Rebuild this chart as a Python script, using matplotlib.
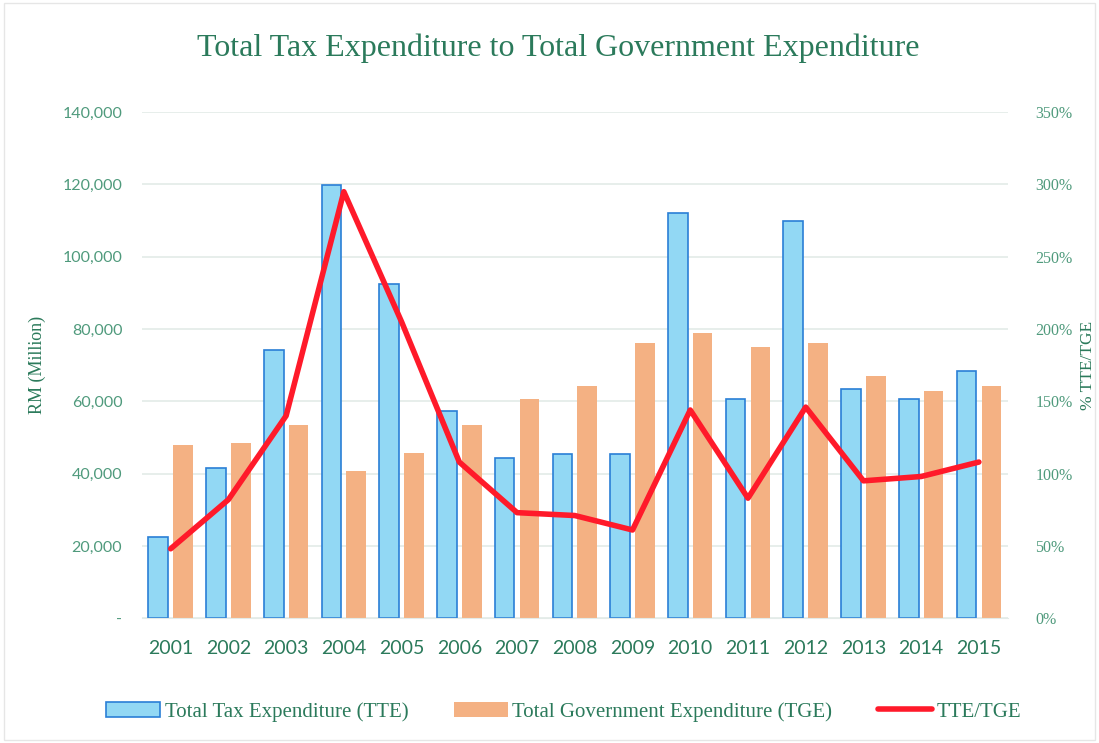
import numpy as np
import matplotlib.pyplot as plt
from matplotlib.ticker import FuncFormatter

anos = ['2001', '2002', '2003', '2004', '2005', '2006', '2007', '2008',
        '2009', '2010', '2011', '2012', '2013', '2014', '2015']
tte = [22400, 41500, 74200, 119800, 92400, 57300, 44300, 45400,
       45400, 112000, 60600, 109800, 63300, 60600, 68300]
tge = [47900, 48400, 53400, 40700, 45600, 53400, 60600, 64200,
       76100, 78800, 75000, 76100, 66900, 62800, 64200]
razao = [48, 82, 140, 295, 205, 108, 73, 71, 61, 144, 83, 146, 95, 98, 108]

verde = '#2b7a5b'
verde_claro = '#4f9a7c'
serif = ['Liberation Serif', 'DejaVu Serif']
sans = ['Lato', 'DejaVu Sans']

fig = plt.figure(figsize=(10.99, 7.43), dpi=100)
ax = fig.add_axes([0.129, 0.168, 0.788, 0.681])
ax2 = ax.twinx()

x = np.arange(len(anos))
larg = 0.34
ax.bar(x - 0.215, tte, larg, color='#92d8f4', edgecolor='#2a7fd6', linewidth=1.2,
       label='Total Tax Expenditure (TTE)', zorder=2)
ax.bar(x + 0.215, tge, larg, color='#f4b183', edgecolor='none',
       label='Total Government Expenditure (TGE)', zorder=2)
ax2.plot(x, razao, color='#ff1a2a', linewidth=4, label='TTE/TGE',
         solid_joinstyle='round', solid_capstyle='round')

ax.set_xlim(-0.5, len(anos) - 0.5)
ax.set_ylim(0, 140000)
ax.set_yticks(np.arange(0, 140001, 20000))
ax.yaxis.set_major_formatter(FuncFormatter(lambda v, p: '-' if v == 0 else '{:,.0f}'.format(v)))
ax2.set_ylim(0, 350)
ax2.set_yticks(np.arange(0, 351, 50))
ax2.yaxis.set_major_formatter(FuncFormatter(lambda v, p: '{:.0f}%'.format(v)))

ax.grid(axis='y', color='#e3ebe8', linewidth=1.2, zorder=0)
ax.set_axisbelow(True)
for a in (ax, ax2):
    for s in a.spines.values():
        s.set_visible(False)
ax.spines['bottom'].set_visible(True)
ax.spines['bottom'].set_color('#e3ebe8')

ax.set_xticks(x)
ax.set_xticklabels(anos, fontsize=14, color=verde, family=sans)
ax.tick_params(axis='x', length=0, pad=16)
ax.tick_params(axis='y', length=0, pad=14, labelsize=11.5, labelcolor=verde_claro)
for t in ax.get_yticklabels():
    t.set_family(sans)
ax2.tick_params(axis='y', length=0, pad=20, labelsize=11.5, labelcolor=verde_claro)
for t in ax2.get_yticklabels():
    t.set_family(serif)

ax.set_ylabel('RM (Million)', fontsize=13, color=verde, family=serif, labelpad=12)
ax2.set_ylabel('% TTE/TGE', fontsize=12.5, color=verde, family=serif, labelpad=5)
fig.text(0.508, 0.935, 'Total Tax Expenditure to Total Government Expenditure',
         ha='center', va='center', fontsize=23, color=verde, family=serif)

h1, l1 = ax.get_legend_handles_labels()
h2, l2 = ax2.get_legend_handles_labels()
fig.legend(h1 + h2, l1 + l2, loc='center', bbox_to_anchor=(0.513, 0.042), ncol=3,
           frameon=False, prop={'family': serif, 'size': 15}, labelcolor=verde,
           handlelength=2.6, handletextpad=0.2, columnspacing=2.2)

fig.patches.append(plt.Rectangle((0.004, 0.004), 0.992, 0.992, transform=fig.transFigure,
                                 fill=False, edgecolor='#e6e6e6', linewidth=1))

plt.savefig('out.png', dpi=100)
